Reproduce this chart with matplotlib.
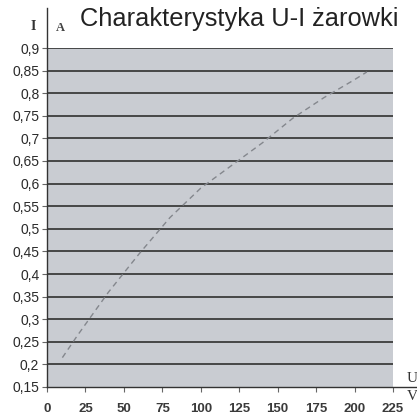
import matplotlib
matplotlib.use("Agg")
import matplotlib.pyplot as plt

# --- Data ---
U = [10, 20, 40, 60, 80, 100, 120, 140, 160, 180, 200, 208]
I = [0.215, 0.265, 0.36, 0.445, 0.525, 0.59, 0.64, 0.69, 0.745, 0.79, 0.83, 0.847]

x_ticks = [0, 25, 50, 75, 100, 125, 150, 175, 200, 225]
y_ticks = [0.15, 0.2, 0.25, 0.3, 0.35, 0.4, 0.45, 0.5, 0.55, 0.6, 0.65, 0.7,
           0.75, 0.8, 0.85, 0.9]
y_labels = ["0,15", "0,2", "0,25", "0,3", "0,35", "0,4", "0,45", "0,5", "0,55",
            "0,6", "0,65", "0,7", "0,75", "0,8", "0,85", "0,9"]

title = "Charakterystyka U-I żarowki"

# --- Plotting ---
plt.rcParams["font.family"] = ["Liberation Sans", "DejaVu Sans"]
fig = plt.figure(figsize=(4.17, 4.17), dpi=100)
ax = fig.add_axes([47 / 417, 30 / 417, 346 / 417, 339 / 417])
ax.set_facecolor("#c9ccd2")

ax.set_xlim(0, 225)
ax.set_ylim(0.15, 0.9)

# horizontal rules
for y in y_ticks[1:]:
    ax.axhline(y, color="#3c3c3c", lw=1.3, zorder=1)

ax.plot(U, I, color="#84878d", lw=1.0, ls=(0, (4, 3)), zorder=2)

ax.set_xticks(x_ticks)
ax.set_xticklabels([str(v) for v in x_ticks], fontsize=9.5, color="#3a3a3a",
                   fontweight="bold")
ax.set_yticks(y_ticks)
ax.set_yticklabels(y_labels, fontsize=10, color="#2a2a2a")
ax.tick_params(axis="both", length=3.5, width=0.8, color="#666666", pad=2)
ax.tick_params(axis="x", pad=8)

for s in ["top", "right", "left", "bottom"]:
    ax.spines[s].set_visible(False)

# extended axis lines
ax.plot([0, 0], [0, 1.118], transform=ax.transAxes, color="#333333", lw=1.0,
        clip_on=False, zorder=3)
ax.plot([0, 1.069], [0, 0], transform=ax.transAxes, color="#333333", lw=1.0,
        clip_on=False, zorder=3)

fig.text(33 / 417, 1 - 27 / 417, "I", family="Liberation Serif",
         fontweight="bold", fontsize=10, ha="center", va="center", color="#333333")
fig.text(60 / 417, 1 - 28 / 417, "A", family="Liberation Serif",
         fontweight="bold", fontsize=9, ha="center", va="center", color="#444444")
fig.text(412 / 417, 1 - 379 / 417, "U", family="Liberation Serif",
         fontsize=11, ha="center", va="center", color="#333333")
fig.text(412 / 417, 1 - 397 / 417, "V", family="Liberation Serif",
         fontsize=11, ha="center", va="center", color="#333333")
fig.text(239 / 417, 1 - 19 / 417, title, fontsize=18.3, ha="center",
         va="center", color="#222222")

fig.savefig("out.png", dpi=100, facecolor="white")
